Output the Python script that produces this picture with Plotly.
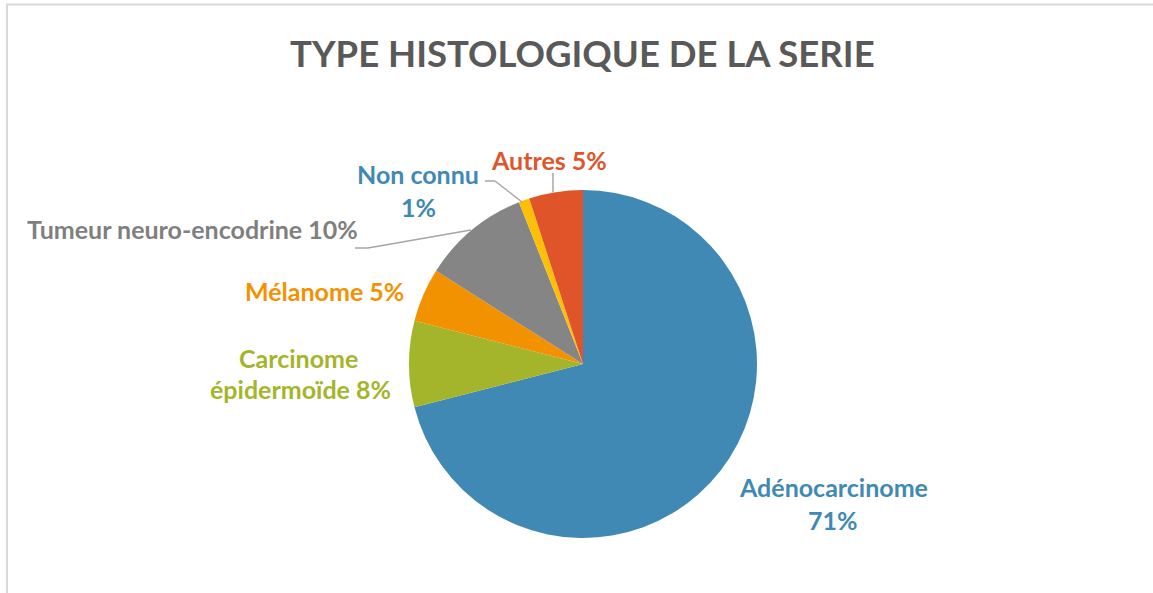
import plotly.graph_objects as go

W, H = 1153, 593

categories = ["Adénocarcinome", "Carcinome épidermoïde", "Mélanome",
              "Tumeur neuro-encodrine", "Non connu", "Autres"]
values = [71, 8, 5, 10, 1, 5]
colors = ["#3F89B4", "#A5B52B", "#F39200", "#858585", "#FDC008", "#E0542A"]
label_colors = ["#3F89B4", "#A5B52B", "#F39200", "#7F7F7F", "#3F89B4", "#E0542A"]
title_text = "TYPE HISTOLOGIQUE DE LA SERIE"

# label lines (text split per line) and pixel centres
label_lines = [
    [("Adénocarcinome", 833, 487), ("71%", 833, 520)],
    [("Carcinome", 299, 358), ("épidermoïde 8%", 300, 389)],
    [("Mélanome 5%", 324, 291)],
    [("Tumeur neuro-encodrine 10%", 192, 229)],
    [("Non connu", 418, 174), ("1%", 418, 207)],
    [("Autres 5%", 549, 160)],
]
leaders = [
    [(553, 173), (553, 192)],
    [(485, 181), (495, 181), (522, 202)],
    [(355, 248), (368, 248), (471, 230)],
]

def px(x):
    return x / W

def py(y):
    return 1 - y / H

cx, cy, r = 583, 364, 174

fig = go.Figure(go.Pie(
    labels=categories, values=values, sort=False, direction="clockwise",
    rotation=0, marker=dict(colors=colors, line=dict(width=0)),
    textinfo="none", hoverinfo="label+percent", showlegend=False,
    domain=dict(x=[px(cx - r), px(cx + r)], y=[py(cy + r), py(cy - r)]),
))

annotations = [dict(text="<b>%s</b>" % title_text, x=px(582), y=py(53),
                    xref="paper", yref="paper", showarrow=False,
                    xanchor="center", yanchor="middle",
                    font=dict(family="Lato", size=36.5, color="#595959"))]
for lines, col in zip(label_lines, label_colors):
    for t, x, y in lines:
        annotations.append(dict(text="<b>%s</b>" % t, x=px(x), y=py(y),
                                xref="paper", yref="paper", showarrow=False,
                                xanchor="center", yanchor="middle",
                                font=dict(family="Lato", size=25, color=col)))

shapes = [dict(type="rect", xref="paper", yref="paper",
               x0=px(7), x1=1.02, y0=-0.02, y1=py(4.5),
               line=dict(color="#D9D9D9", width=2), fillcolor="rgba(0,0,0,0)")]
for pts in leaders:
    for (x0, y0), (x1, y1) in zip(pts[:-1], pts[1:]):
        shapes.append(dict(type="line", xref="paper", yref="paper",
                           x0=px(x0), y0=py(y0), x1=px(x1), y1=py(y1),
                           line=dict(color="#A6A6A6", width=1.5)))

fig.update_layout(width=W, height=H, margin=dict(l=0, r=0, t=0, b=0),
                  paper_bgcolor="white", plot_bgcolor="white",
                  annotations=annotations, shapes=shapes)

fig.write_html("out.html", config={"displayModeBar": False},
               post_script="document.body.style.margin='0';document.body.style.overflow='hidden';")
